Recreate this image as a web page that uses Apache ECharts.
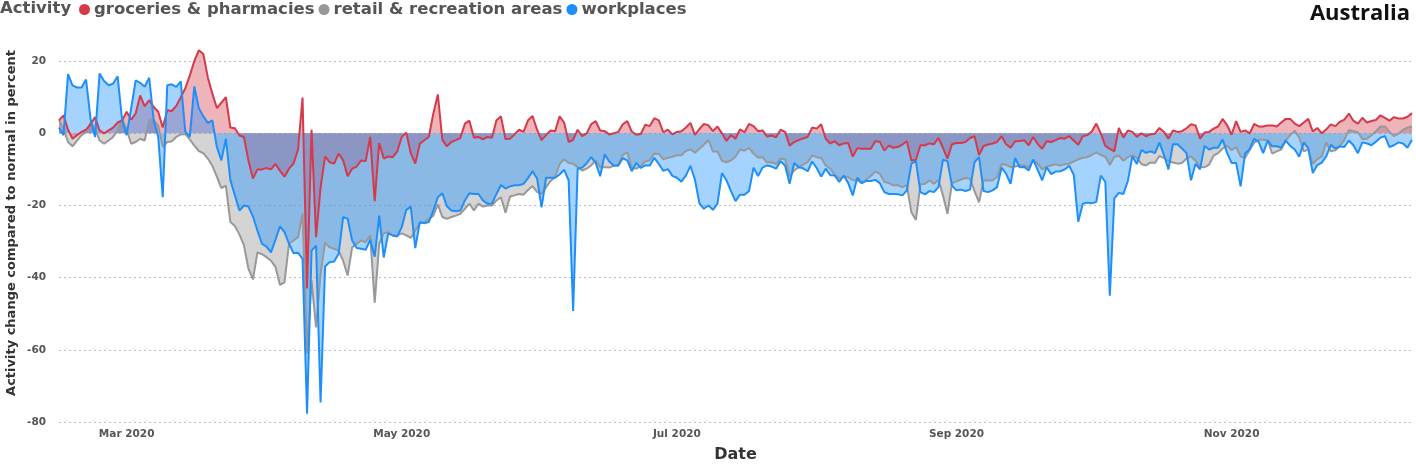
<!DOCTYPE html>
<html>
<head>
<meta charset="utf-8">
<script src="https://cdn.jsdelivr.net/npm/echarts@6/dist/echarts.min.js"></script>
<style>
  html, body { margin: 0; padding: 0; background: #fff; }
  #chart { width: 1416px; height: 464px; }
</style>
</head>
<body>
<div id="chart"></div>
<script>
// daily values, 15 Feb 2020 onwards (one value per day)
const startDay = '2020-02-15';

const groceries = [
  3.6, 5, 1, -1.5, -0.5, 0.4, 1, 2.5, 4.5, 0.8, 0, 0.8, 1.6, 3, 3.6, 6, 3.8, 5.5, 10.5, 7.5, 9.2, 7.3, 6, 1.6, 6.4,
  6.2, 7.6, 10, 12.5, 16, 20, 23, 22, 15.5, 11, 7, 8.5, 10, 1.6, 1.4, -0.6, -1, -7.5, -12.5, -10, -10, -9.6, -10, -8.5, -10.4,
  -12, -9.8, -8.4, -4.5, 9.9, -43, 1, -28.8, -15, -6.4, -8, -8.4, -5.6, -7.5, -11.9, -9.8, -9.2, -7.5, -7.7, -1, -18.8, -2.7, -7, -6.4, -6.6,
  -5, -1, 0.2, -5.5, -8.4, -2.9, -1.9, -1, 5.5, 10.8, -1.8, -3.6, -2.4, -1.9, -1.3, 2.7, 3.5, -1.2, -1, -1.7, -1, -1.2, 3.6, 4.7, -1.6,
  -1.5, -0.3, 1, 0.4, 3.6, 4.8, 1, -1.9, -0.5, 0.8, 0.6, 4.7, 3, -2.4, -1.8, 1, -0.8, 0, 2.5, 3.4, 0.8, 0.6, -0.3, 0, 0.4,
  2.5, 3.4, 0.5, -0.4, -0.2, 2.4, 2, 4.2, 3.6, 0.3, 1, -0.3, 0.4, 0.6, 1.6, 2.9, -0.4, 1.2, 2.6, 2.2, 0.6, 1.9, 0, -2.1, -0.5,
  -1.5, 1.1, 0.3, 2.6, 2, 0.6, 0.8, -0.9, -0.6, -1.1, 1, 0.4, -3.4, -2.4, -1.9, -1.4, -1, 1.6, 1.3, 2.5, -1.5, -2.8, -2.2, -3.3, -2.8,
  -2.7, -6.5, -4.1, -4.3, -4.3, -4.3, -2.2, -2.3, -4.8, -3.4, -4, -3.8, -3.1, -2.2, -7.5, -7.3, -3.3, -3.3, -2.8, -3, -1.3, -4, -7, -3, -2.7,
  -2.7, -2.4, -1.3, -0.8, -6, -3.5, -3.1, -2.8, -2.4, -0.8, -3, -4, -2.2, -2.1, -1.9, -3.3, -1, -2.9, -4.3, -2.2, -2.4, -1.9, -1.3, -1.5, -0.8,
  -2, -3.2, -0.8, -0.5, 0.5, 2.7, 0, -3.5, -4.3, -5, 1.5, -1.2, 0.8, 0.4, -1, 0, -0.8, -0.3, -0.1, 1.5, 0.4, -1.5, 0.8, 0.4, 0.6,
  1.4, 2.5, 2.2, -1.5, 0.2, 0.4, 1.3, 1.9, 4, 2.3, -0.4, 3.4, 0.4, 0.8, 0, 2.6, 1.9, 1.9, 2.2, 2.2, 1.9, 3, 4, 4, 2.7,
  2, 3, 4, 0.5, 1.5, 0, 1.1, 2.5, 2, 3.2, 3.8, 5.5, 3.5, 2.7, 4.3, 3, 3.4, 3.7, 5, 4.3, 3.5, 4.5, 4.1, 4.1, 4.6, 5.6
];

const retail = [
  3.6, 1.3, -2.4, -3.6, -2, -0.5, 0.4, 3, 1.3, -2, -2.9, -2, -1, 0.8, 4, 1, -2.9, -2.4, -1.5, -2, 3.6, 3.6, 2.2, -3.8, -2.4,
  -2.2, -1, -0.3, -0.2, -1.7, -3.4, -4.9, -5.5, -7, -9, -12, -15.2, -14.5, -24.6, -25.7, -28, -31, -37.5, -40.5, -33, -33.5, -34.3, -35.3, -37, -42,
  -41.3, -30.6, -29.7, -28.8, -22.3, -61, -40.8, -53.8, -39, -30.2, -31.6, -32, -32.5, -35.3, -39.4, -31.6, -30.6, -29.7, -30.2, -28.3, -46.9, -30.6, -27.7, -27.4, -28.3,
  -28.3, -27.7, -28.3, -29, -26.9, -24.9, -24.6, -23.7, -22.8, -19.7, -23.2, -23.7, -23.2, -22.8, -22.3, -20.9, -19.5, -21.4, -19.5, -20.3, -20, -20, -18.6, -17.7, -22,
  -17.5, -17.2, -16.8, -17, -15.7, -14.6, -16.2, -16.8, -14.9, -13.2, -12.1, -8.5, -7.2, -8.2, -8.4, -9.4, -10.3, -9.8, -8.9, -7.5, -9.4, -9.4, -9.5, -9, -8.6,
  -6, -5.3, -9.5, -9.8, -9, -7.8, -7.5, -5.6, -5.7, -7.2, -6.8, -6.5, -6.1, -6.1, -4.9, -4.4, -5.4, -4.3, -3.1, -1.9, -5, -5, -7.6, -8, -7.5,
  -6.5, -4.5, -4.8, -4, -5.6, -6.7, -6.6, -8.1, -8, -8.5, -7, -7.2, -12, -10.3, -9.4, -8.7, -8, -6.1, -6.6, -6.8, -8.9, -9.8, -11.5, -12.5, -12.1,
  -12.1, -13, -13, -13.8, -12.8, -11.8, -10.6, -11.2, -13.5, -13.8, -14.4, -14.4, -14.9, -14.4, -21.9, -24, -14.2, -14, -13, -14, -12.9, -17.2, -22.3, -13.8, -13.3,
  -12.8, -12.4, -12.6, -16, -19.1, -13, -13.1, -13, -12.1, -8.5, -8.8, -9.3, -9.2, -8.9, -8.9, -9.4, -7.4, -8.4, -10, -9.2, -8.9, -8.6, -8.9, -8.6, -8.4,
  -7.8, -7.2, -6.8, -6.6, -6, -5.3, -6, -6.5, -8.8, -6.5, -6.2, -7.6, -6.6, -6.1, -6.8, -8.5, -8.9, -8.1, -8.2, -6.3, -6.8, -7.7, -8.1, -8.4, -8.2,
  -7, -6.4, -7.6, -9.3, -9.4, -8.7, -6.2, -5.5, -4.2, -3.4, -4.7, -3.8, -6.4, -6.8, -4.6, -2.6, -1.8, -1.8, -1.9, -5.6, -5, -4.5, -2, -0.5, 0.7,
  -1.2, -5, -4.5, -8.5, -7.2, -6.4, -2.5, -5, -4.7, -3.5, -1.9, 0.9, 0.6, 0.3, -1.6, -1.5, -0.6, 0.6, 1.9, 1.9, 0.4, -0.8, -0.1, 1, 1.6, 1.9
];

const workplaces = [
  1.6, -0.5, 16.4, 13.3, 12.7, 12.7, 14.9, 4, -1, 16.6, 14.5, 13.3, 13.8, 15.8, 3.6, -0.5, 7, 14.7, 14, 12.9, 15.4, 3.6, -1, -17.7, 13.3,
  13.6, 12.9, 14.4, 0.5, -1, 13, 7, 4.7, 2.9, 3.6, -3.8, -7.5, -1.5, -13, -17.2, -21.4, -20, -20.3, -23, -27, -30.6, -31.4, -33, -29.5, -25.8,
  -27.4, -30.6, -33.2, -33.1, -34.8, -77.7, -32.5, -31.1, -74.6, -36.9, -35.7, -35.5, -33.4, -23.2, -23.7, -29.7, -31.8, -32, -32.3, -29.5, -34.2, -22.8, -34.4, -27.7, -28.3,
  -28.6, -26, -21.2, -20.3, -31.8, -24.6, -24.9, -24.6, -21.4, -17.7, -16.6, -20.2, -21.4, -21.6, -21.4, -18.6, -16.6, -16.8, -16.8, -18.6, -19.5, -19.5, -16.8, -14.3, -15.3,
  -14.7, -14.4, -14.4, -14, -12.4, -10.5, -12.5, -20.5, -12.3, -12.3, -12.3, -11.4, -10.1, -13, -49.2, -9.8, -9.5, -8.3, -6.6, -8.2, -11.9, -5.8, -7.8, -8.9, -9,
  -6.9, -7.5, -10.5, -8.2, -9.6, -8.9, -8.9, -6.8, -8.5, -10.4, -9.9, -11.8, -12.3, -13.4, -11.7, -9, -12.8, -19.4, -20.9, -20, -21.2, -19.5, -11, -13, -16,
  -18.8, -17, -17, -16, -9.5, -11.8, -9.5, -8.9, -9.2, -9.8, -7.7, -9, -14, -8.2, -9.4, -9.7, -10.5, -7.8, -9.6, -12, -9.8, -11.6, -11.7, -13.5, -11.7,
  -13.8, -17.2, -12.3, -13.8, -13.2, -13.2, -12.9, -13.8, -16.3, -16.8, -16.8, -16.9, -17.2, -15.8, -8.4, -7.7, -16.3, -16.9, -16, -16.3, -14.9, -7.3, -7.7, -14.5, -15.8,
  -15.6, -16, -15.6, -8, -6.6, -16, -16.3, -15.8, -14.9, -9.5, -11.2, -14, -6.8, -9.4, -9.3, -10.3, -7.3, -10.1, -13, -9.4, -11.3, -10.6, -10.5, -10, -9,
  -11.5, -24.5, -19.5, -19.2, -19.4, -19, -11.7, -13.5, -45, -18, -16.5, -16.8, -13.2, -6.4, -8.5, -4.6, -5.4, -5, -5.5, -2.6, -6, -10, -3, -3, -4.2,
  -5.5, -13, -8.5, -10, -3.5, -4.5, -4, -4, -1.7, -5.4, -8.2, -8.2, -14.7, -5.5, -4.4, -1.5, -2.4, -5.5, -2, -3.6, -3.6, -4, -2, -3.5, -4.5,
  -6.5, -2.5, -4.1, -11, -8.8, -8.1, -6.3, -3.2, -4.2, -3.6, -3.8, -2, -3.3, -5.5, -2.5, -2.8, -3.3, -2.3, -1.2, -0.8, -3.8, -3.3, -2.5, -2.8, -4, -1.8
];

const tickDates = ['2020-03-01', '2020-05-01', '2020-07-01', '2020-09-01', '2020-11-01'];
const tickLabels = ['Mar 2020', 'May 2020', 'Jul 2020', 'Sep 2020', 'Nov 2020'];

// one category per day
const dates = [];
const t0 = Date.parse(startDay + 'T00:00:00Z');
for (let i = 0; i < groceries.length; i++) {
  dates.push(new Date(t0 + i * 86400000).toISOString().slice(0, 10));
}

const names = ['groceries & pharmacies', 'retail & recreation areas', 'workplaces'];
const colRed = '#d63a4a';
const colGray = '#989898';
const colBlue = '#1e8ffa';

const chart = echarts.init(document.getElementById('chart'), null, { renderer: 'canvas' });

function areaSeries(name, data, color, fill, opacity) {
  return {
    name: name,
    type: 'line',
    data: data,
    showSymbol: false,
    symbol: 'none',
    itemStyle: { color: color },
    lineStyle: { width: 0 },
    areaStyle: { color: fill, opacity: opacity },
    silent: true
  };
}
function lineSeries(name, data, color) {
  return {
    name: name,
    type: 'line',
    data: data,
    showSymbol: false,
    symbol: 'none',
    itemStyle: { color: color },
    lineStyle: { width: 2, color: color },
    silent: true
  };
}

const option = {
  animation: false,
  backgroundColor: '#ffffff',
  textStyle: { fontFamily: 'DejaVu Sans' },
  title: [
    {
      text: 'Activity',
      left: 0, top: 0, padding: 0,
      textStyle: { fontSize: 16.5, fontWeight: 'bold', color: '#555555', fontFamily: 'DejaVu Sans' }
    },
    {
      text: 'Australia',
      right: 6, top: 3, padding: 0,
      textStyle: { fontSize: 22, fontWeight: 'bold', color: '#111111', fontFamily: 'Open Sans' }
    }
  ],
  legend: {
    data: names,
    left: 79, top: 1, padding: 0,
    icon: 'circle',
    itemWidth: 11, itemHeight: 11, itemGap: 4,
    textStyle: { fontSize: 16.5, fontWeight: 'bold', color: '#555555', fontFamily: 'DejaVu Sans', padding: [0, 0, 0, -1] },
    selectedMode: false
  },
  grid: { left: 59, right: 4, top: -11, bottom: 42, outerBoundsMode: 'none', containLabel: false },
  xAxis: {
    type: 'category',
    data: dates,
    boundaryGap: false,
    axisLine: { show: false },
    axisTick: { show: false },
    splitLine: { show: false },
    axisLabel: {
      interval: (idx, val) => tickDates.indexOf(val) >= 0,
      formatter: (val) => tickLabels[tickDates.indexOf(val)] || '',
      fontSize: 10.5, fontWeight: 'bold', color: '#555555', margin: 7, fontFamily: 'DejaVu Sans'
    },
    name: 'Date',
    nameLocation: 'middle',
    nameGap: 25,
    nameTextStyle: { fontSize: 16, fontWeight: 'bold', color: '#333333', fontFamily: 'DejaVu Sans' }
  },
  yAxis: {
    type: 'value',
    min: -80, max: 40, interval: 20,
    axisLine: { show: false },
    axisTick: { show: false },
    splitLine: { lineStyle: { type: [2, 3], color: '#bdbdbd', width: 1 } },
    axisLabel: {
      formatter: (v) => (v > 20 ? '' : String(v)),
      fontSize: 10.5, fontWeight: 'bold', color: '#555555', margin: 13, fontFamily: 'DejaVu Sans'
    }
  },
  graphic: [
    {
      type: 'text',
      x: 12, y: 223,
      rotation: Math.PI / 2,
      style: {
        text: 'Activity change compared to normal in percent',
        font: 'bold 13px "DejaVu Sans"',
        fill: '#333333',
        align: 'center',
        verticalAlign: 'middle'
      }
    }
  ],
  series: [
    areaSeries(names[1], retail, colGray, '#a9a9a9', 0.5),
    areaSeries(names[0], groceries, colRed, colRed, 0.38),
    areaSeries(names[2], workplaces, colBlue, '#1e90ff', 0.4),
    lineSeries(names[1], retail, colGray),
    lineSeries(names[0], groceries, colRed),
    lineSeries(names[2], workplaces, colBlue)
  ]
};

chart.setOption(option);
</script>
</body>
</html>
